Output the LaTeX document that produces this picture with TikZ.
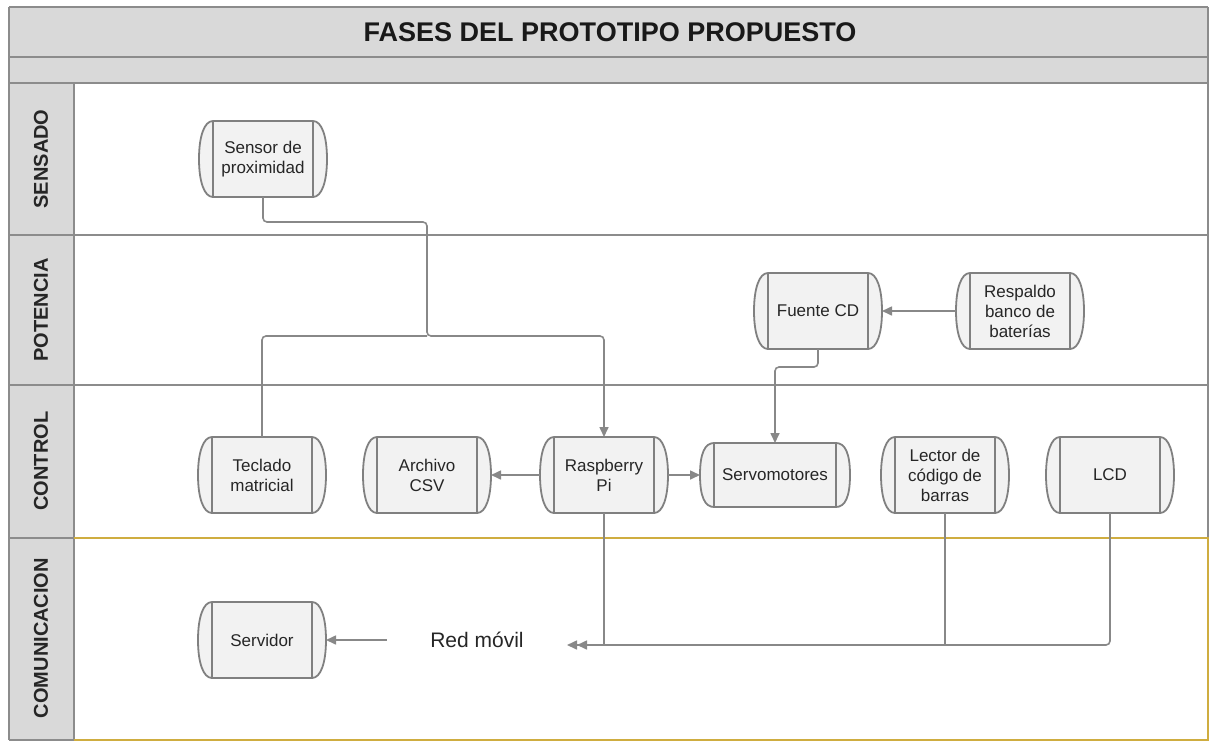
\documentclass[tikz,border=0pt]{standalone}
\usepackage{fontspec}
\setmainfont{Liberation Sans}
\usetikzlibrary{arrows.meta,calc}
\definecolor{hdr}{RGB}{217,217,217}
\definecolor{lanegray}{RGB}{140,140,140}
\definecolor{gold}{RGB}{207,173,64}
\definecolor{boxfill}{RGB}{242,242,242}
\definecolor{boxline}{RGB}{128,128,128}
\definecolor{conncol}{RGB}{136,136,136}
\definecolor{txt}{RGB}{38,38,38}
\pgfdeclarelayer{lanes}\pgfdeclarelayer{shapes}
\pgfsetlayers{lanes,shapes,main}
\tikzset{
 dev/.style={inner sep=0pt, outer xsep=14pt, outer ysep=0pt, minimum width=100pt, minimum height=76pt, align=center, font=\fontsize{17}{20}\selectfont, text=txt},
 lanelbl/.style={rotate=90, font=\bfseries\fontsize{20}{24}\selectfont, text=black!85},
 conn/.style={draw=conncol, line width=1.6pt, rounded corners=4pt},
 arrowend/.style={-{Triangle[length=10pt,width=9pt]}},
 dblend/.style={-{Triangle[length=10pt,width=9pt]Triangle[length=10pt,width=9pt]}},
 laneline/.style={draw=lanegray, line width=2.2pt},
 goldline/.style={draw=gold, line width=2.2pt},
 devline/.style={draw=boxline, line width=1.8pt},
}
\newcommand\drawdev[1]{%
 \path[devline, fill=boxfill] ($(#1.north west)+(14,0)$) -- ($(#1.north east)+(-14,0)$)
   .. controls ($(#1.north east)+(-5,0)$) and ($(#1.east)+(0,-22)$) .. (#1.east)
   .. controls ($(#1.east)+(0,22)$) and ($(#1.south east)+(-5,0)$) .. ($(#1.south east)+(-14,0)$)
   -- ($(#1.south west)+(14,0)$)
   .. controls ($(#1.south west)+(5,0)$) and ($(#1.west)+(0,22)$) .. (#1.west)
   .. controls ($(#1.west)+(0,-22)$) and ($(#1.north west)+(5,0)$) .. ($(#1.north west)+(14,0)$) -- cycle;
 \draw[devline] ($(#1.north west)+(14,0)$) -- ($(#1.south west)+(14,0)$)
   ($(#1.north east)+(-14,0)$) -- ($(#1.south east)+(-14,0)$);
}
\begin{document}
\begin{tikzpicture}[x=1pt,y=-1pt]
\useasboundingbox (0,0) rectangle (1210,747);
% lanes
\begin{pgfonlayer}{lanes}
 \fill[white] (9,7) rectangle (1208,740);
 \fill[hdr] (9,7) rectangle (1208,83);
 \fill[hdr] (9,83) rectangle (74,740);
 \draw[laneline] (9,7) -- (1208,7);
 \draw[laneline] (9,57) -- (1208,57);
 \draw[laneline] (9,83) -- (1208,83);
 \draw[laneline] (9,235) -- (1208,235);
 \draw[laneline] (9,385) -- (1208,385);
 \draw[laneline] (9,538) -- (74,538);
 \draw[laneline] (9,740) -- (74,740);
 \draw[laneline] (9,7) -- (9,740);
 \draw[laneline] (74,83) -- (74,740);
 \draw[laneline] (1208,7) -- (1208,538);
 \draw[goldline] (74,538) -- (1208,538) -- (1208,740) -- (74,740);
\end{pgfonlayer}
\node[font=\bfseries\fontsize{27}{30}\selectfont, text=black!90] (title) at (610,32) {FASES DEL PROTOTIPO PROPUESTO};
\node[lanelbl] (l1) at (41,159) {SENSADO};
\node[lanelbl] (l2) at (41,310) {POTENCIA};
\node[lanelbl] (l3) at (41,461) {CONTROL};
\node[lanelbl] (l4) at (41,638) {COMUNICACION};
% devices
\node[dev] (sensor) at (263,159) {Sensor de\\proximidad};
\node[dev] (fuente) at (818,311) {Fuente CD};
\node[dev] (resp) at (1020,311) {Respaldo\\banco de\\baterías};
\node[dev] (tecl) at (262,475) {Teclado\\matricial};
\node[dev] (csv) at (427,475) {Archivo\\CSV};
\node[dev] (rasp) at (604,475) {Raspberry\\Pi};
\node[dev, minimum width=122pt, minimum height=64pt] (servo) at (775,475) {Servomotores};
\node[dev] (lector) at (945,475) {Lector de\\código de\\barras};
\node[dev] (lcd) at (1110,475) {LCD};
\node[dev] (serv) at (262,640) {Servidor};
\node[font=\fontsize{21}{24}\selectfont, text=txt, minimum width=180pt, inner sep=0pt] (red) at (477,640) {Red móvil};
\begin{pgfonlayer}{shapes}
 \foreach \n in {sensor,fuente,resp,tecl,csv,rasp,servo,lector,lcd,serv}{\drawdev{\n}}
\end{pgfonlayer}
% junctions
\coordinate (j1) at (427,222);
\coordinate (j2) at (427,336);
\coordinate (j3) at (775,367);
\coordinate (redin) at (567,645);
% connectors
\draw[conn, arrowend] (sensor.south) |- (j1) -- (j2) -| (rasp.north);
\draw[conn] (tecl.north) |- (j2);
\draw[conn, arrowend] (rasp.west) -- (csv.east);
\draw[conn, arrowend] (rasp.east) -- (servo.west);
\draw[conn, arrowend] (resp.west) -- (fuente.east);
\draw[conn, arrowend] (fuente.south) |- (j3) -- (servo.north);
\draw[conn, dblend] (lcd.south) |- (redin);
\draw[conn] (lector.south) -- (lector.south |- redin);
\draw[conn] (rasp.south) -- (rasp.south |- redin);
\draw[conn, arrowend] (red.west) -- (serv.east);
\end{tikzpicture}
\end{document}
